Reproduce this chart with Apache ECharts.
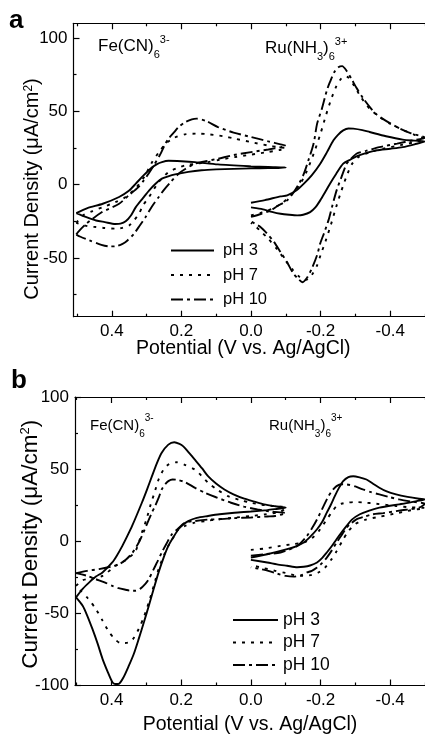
<!DOCTYPE html>
<html><head><meta charset="utf-8">
<script src="https://cdn.jsdelivr.net/npm/echarts@6/dist/echarts.min.js"></script>
<style>html,body{margin:0;padding:0;background:#fff}#c{width:425px;height:736px}</style>
</head><body><div id="c"></div>
<script>
// ---------- tick values ----------
const xMajor = [-0.4, -0.2, 0, 0.2, 0.4];
const xMinor = [-0.5, -0.3, -0.1, 0.1, 0.3, 0.5];
const yMajorA = [-50, 0, 50, 100];
const yMinorA = [-75, -25, 25, 75];
const yMajorB = [-100, -50, 0, 50, 100];
const yMinorB = [-75, -25, 25, 75];
const legendNames = ['pH 3', 'pH 7', 'pH 10'];

// ---------- panel a : Fe(CN)6 3- ----------
const feA_pH3 = [[0.502,-19.4],[0.47,-16],[0.426,-13],[0.379,-8.4],[0.35,-4],[0.331,0.7],[0.31,6],[0.289,10.9],[0.27,14],[0.256,15.4],[0.237,16.3],[0.2,16],[0.161,15.4],[0.095,13.8],[0.0,12.5],[-0.05,12],[-0.1,11.6],
  [-0.05,11.3],[0.0,11.1],[0.05,10.8],[0.1,10.4],[0.142,9.8],[0.18,8.7],[0.218,7],[0.24,5.5],[0.256,4.1],[0.275,0.5],[0.293,-4],[0.31,-9],[0.331,-15.3],[0.345,-21],[0.36,-25],[0.375,-26.6],[0.39,-26.8],[0.42,-25.5],[0.445,-24.4],[0.475,-22],[0.502,-19.4]];
const feA_pH7 = [[0.502,-26],[0.483,-21],[0.455,-18],[0.426,-15.3],[0.39,-12],[0.36,-8.4],[0.33,-2],[0.305,6],[0.284,15.4],[0.265,22],[0.245,28],[0.22,32],[0.19,34.3],[0.15,34.8],[0.12,34.3],[0.08,33],[0.047,31.4],[0.0,29],[-0.047,26.8],[-0.08,25.5],[-0.1,25],
  [-0.08,23.5],[-0.047,22.2],[0.0,20.5],[0.047,18.8],[0.09,17],[0.123,15.4],[0.16,14.2],[0.189,13.2],[0.215,11],[0.237,8.6],[0.265,1.8],[0.293,-8.4],[0.31,-14],[0.322,-19.8],[0.335,-24],[0.35,-27.8],[0.37,-29.5],[0.388,-30],[0.42,-29.5],[0.445,-28.9],[0.47,-28.3],[0.502,-26]];
const feA_pH10 = [[0.502,-34],[0.497,-32.3],[0.473,-26.6],[0.43,-19],[0.379,-13],[0.35,-7],[0.325,-2],[0.308,2.9],[0.293,8],[0.279,13.2],[0.26,21],[0.248,27],[0.237,31.4],[0.22,36],[0.208,39.3],[0.19,42.5],[0.17,44.5],[0.156,45],[0.13,43.5],[0.095,39.3],[0.05,35.5],[0.0,32.5],[-0.05,29.5],[-0.085,27.5],[-0.1,26.5],
  [-0.085,25.5],[-0.05,24],[0.0,22.2],[0.05,20.2],[0.095,17.7],[0.13,16],[0.161,14.3],[0.19,10.5],[0.208,7.5],[0.23,2],[0.25,-3.5],[0.265,-8.4],[0.285,-15],[0.303,-22.1],[0.32,-28],[0.336,-33.4],[0.355,-38],[0.369,-40.3],[0.39,-42],[0.407,-42.1],[0.43,-41],[0.464,-38],[0.49,-35.5],[0.502,-34]];

// ---------- panel a : Ru(NH3)6 3+ ----------
const ruA_pH3 = [[0.0,-12.3],[-0.04,-10.5],[-0.085,-8],[-0.104,-7.3],[-0.13,-4],[-0.152,0.7],[-0.175,6.5],[-0.199,14.3],[-0.218,22],[-0.237,30.2],[-0.25,34],[-0.265,37],[-0.28,38.3],[-0.294,38.2],[-0.32,37.2],[-0.341,35.9],[-0.388,33],[-0.436,30.7],[-0.47,30],[-0.5,29.5],
  [-0.47,27.5],[-0.436,25.6],[-0.4,24.5],[-0.36,23.4],[-0.33,21.5],[-0.303,19.3],[-0.285,17],[-0.265,14.3],[-0.245,7.5],[-0.227,0.7],[-0.212,-5.5],[-0.199,-10.7],[-0.185,-15.5],[-0.17,-18.7],[-0.15,-20.5],[-0.133,-20.9],[-0.11,-20.5],[-0.085,-19.8],[-0.06,-18.5],[-0.038,-17],[-0.015,-16],[0.0,-15.5]];
const ruA_pH7 = [[0,-21],[-0.03,-19],[-0.06,-16.5],[-0.09,-12.5],[-0.115,-7],[-0.14,0],[-0.16,9],[-0.18,21],[-0.2,35],[-0.215,47],[-0.23,58],[-0.245,67],[-0.258,72],[-0.27,74],[-0.28,73],[-0.295,68],[-0.315,60],[-0.34,52],[-0.37,46],[-0.4,41.5],[-0.44,37],[-0.47,34],[-0.5,31],
  [-0.47,29],[-0.43,27],[-0.38,24.5],[-0.34,22],[-0.31,19],[-0.29,14],[-0.275,6],[-0.26,-4],[-0.245,-15],[-0.23,-27],[-0.215,-38],[-0.2,-48],[-0.19,-55],[-0.175,-61.5],[-0.163,-64.5],[-0.152,-65],[-0.14,-63],[-0.12,-58],[-0.1,-52],[-0.075,-44],[-0.05,-37],[-0.025,-31],[0,-26]];
const ruA_pH10 = [[0,-22],[-0.028,-20],[-0.057,-17.5],[-0.076,-14.5],[-0.104,-10.7],[-0.123,-5],[-0.14,1.5],[-0.152,7.5],[-0.165,16.6],[-0.18,28],[-0.19,41.6],[-0.204,52],[-0.218,64.3],[-0.227,70],[-0.24,77],[-0.251,80],[-0.262,80.8],[-0.275,77.5],[-0.289,72],[-0.303,66],[-0.322,59],[-0.341,53],[-0.36,48],[-0.388,43.5],[-0.426,38.5],[-0.46,35],[-0.5,32],
  [-0.464,30.2],[-0.42,28],[-0.369,25.6],[-0.33,23],[-0.303,21.1],[-0.285,17],[-0.275,14.3],[-0.26,5.2],[-0.246,-3.9],[-0.233,-15],[-0.223,-24],[-0.21,-33],[-0.199,-40],[-0.19,-48],[-0.175,-57],[-0.161,-63.5],[-0.148,-66.5],[-0.135,-64],[-0.12,-60],[-0.104,-53],[-0.085,-46],[-0.066,-39],[-0.045,-33],[-0.028,-29],[0,-25]];

// ---------- panel b : Fe(CN)6 3- ----------
const feB_pH3 = [[0.502,-38.9],[0.483,-33],[0.464,-28.5],[0.445,-24.5],[0.426,-21.6],[0.398,-14.7],[0.385,-10],[0.369,-3.2],[0.355,3.5],[0.341,10.6],[0.313,26.7],[0.298,36],[0.284,45.1],[0.27,54],[0.256,61.3],[0.237,67],[0.22,68.6],[0.205,67.5],[0.194,65.8],[0.18,62],[0.161,56.6],[0.14,50.5],[0.123,45.1],[0.1,40],[0.076,35.9],[0.05,32.5],[0.019,29.5],[-0.01,27.5],[-0.038,25.6],[-0.07,24.3],[-0.1,23.3],
  [-0.07,22.3],[-0.047,21.6],[0.0,20.6],[0.047,19.8],[0.09,18.7],[0.123,17.5],[0.155,16.2],[0.18,14],[0.195,11.5],[0.208,8.3],[0.222,3],[0.237,-3.2],[0.25,-11],[0.265,-21.6],[0.279,-33],[0.293,-44.7],[0.307,-56],[0.322,-67.7],[0.336,-78],[0.35,-86.1],[0.365,-94],[0.379,-98.8],[0.39,-99],[0.398,-97.6],[0.412,-90],[0.426,-81.5],[0.44,-71],[0.455,-60.8],[0.47,-51.5],[0.483,-44.7],[0.502,-38.9]];
const feB_pH7 = [[0.502,-31],[0.483,-27],[0.45,-25.5],[0.426,-24],[0.388,-17],[0.355,-12.4],[0.331,-6.7],[0.313,6],[0.3,15],[0.289,24.4],[0.275,35],[0.265,42.8],[0.25,50],[0.235,53.5],[0.213,54.8],[0.19,53],[0.161,49.7],[0.14,45],[0.123,40.6],[0.095,35.5],[0.066,31.3],[0.03,28.5],[0,26.7],[-0.04,25],[-0.085,24],[-0.1,23.5],
  [-0.085,20.5],[-0.04,18.6],[0,17.5],[0.05,16.3],[0.095,15.2],[0.13,14],[0.161,12.9],[0.19,10.5],[0.208,8.3],[0.222,3],[0.237,-3.2],[0.25,-10],[0.265,-19.3],[0.279,-31],[0.293,-42.4],[0.308,-53],[0.322,-60.8],[0.335,-66.5],[0.345,-69.6],[0.36,-70.5],[0.375,-70.5],[0.39,-68],[0.407,-63],[0.426,-55],[0.445,-47],[0.47,-39],[0.49,-34],[0.502,-31]];
const feB_pH10 = [[0.502,-22.1],[0.47,-20.5],[0.436,-19.3],[0.4,-17.5],[0.379,-16],[0.36,-13],[0.34,-8],[0.32,0],[0.3,11],[0.284,20],[0.275,24.4],[0.265,30],[0.256,35.9],[0.246,39.5],[0.237,41.7],[0.225,42.8],[0.21,42.5],[0.189,41],[0.16,37],[0.132,33.6],[0.1,30.5],[0.057,26.7],[0.02,24],[-0.019,22.1],[-0.06,20.5],[-0.1,19.5],
  [-0.07,17.5],[-0.047,17.2],[0.0,16.5],[0.047,16],[0.09,15.3],[0.123,15],[0.16,14],[0.189,12.9],[0.21,8.5],[0.227,4.8],[0.242,-1.5],[0.256,-7.8],[0.268,-14],[0.279,-19.3],[0.293,-26.3],[0.303,-29.5],[0.318,-33],[0.331,-34.3],[0.345,-34.3],[0.36,-33.6],[0.38,-32.5],[0.398,-30.9],[0.42,-28.5],[0.445,-26.3],[0.47,-24],[0.502,-22.1]];

// ---------- panel b : Ru(NH3)6 3+ ----------
const ruB_pH3 = [[0,-11.3],[-0.047,-9],[-0.104,-5.5],[-0.13,-3.5],[-0.152,-0.9],[-0.17,3],[-0.19,8.3],[-0.205,13.5],[-0.218,19.8],[-0.23,25.5],[-0.241,31.3],[-0.253,37],[-0.265,41.7],[-0.28,44.5],[-0.294,45.1],[-0.312,44.3],[-0.332,42.8],[-0.35,40],[-0.369,37.1],[-0.39,34.5],[-0.417,32.5],[-0.45,30.8],[-0.483,29.5],[-0.5,29],
  [-0.483,28.2],[-0.455,26.8],[-0.426,25.6],[-0.369,23.3],[-0.34,21.3],[-0.313,18.7],[-0.29,15],[-0.275,10.6],[-0.26,6],[-0.246,1.4],[-0.232,-3.5],[-0.218,-7.8],[-0.205,-11.5],[-0.19,-14.7],[-0.17,-16.8],[-0.152,-17.7],[-0.133,-18],[-0.104,-17],[-0.075,-16],[-0.047,-14.7],[0,-12.9]];
const ruB_pH7 = [[0,-6],[-0.04,-5],[-0.085,-3.2],[-0.12,-2],[-0.152,-0.9],[-0.175,2],[-0.195,7],[-0.218,15.2],[-0.232,20],[-0.246,24.4],[-0.26,26],[-0.275,26.7],[-0.3,27.2],[-0.322,26.9],[-0.36,26],[-0.417,24.4],[-0.46,23.5],[-0.5,23],
  [-0.46,21.5],[-0.42,19.5],[-0.37,17],[-0.33,15],[-0.3,12],[-0.28,7],[-0.262,0],[-0.246,-7],[-0.23,-13],[-0.212,-18.5],[-0.195,-21.5],[-0.175,-23.3],[-0.15,-24],[-0.125,-23.5],[-0.1,-22],[-0.07,-20.5],[-0.035,-18.5],[0,-16.5]];
const ruB_pH10 = [[0,-10],[-0.04,-9],[-0.085,-7.8],[-0.133,-3.2],[-0.161,3.7],[-0.178,10],[-0.19,15.2],[-0.207,23.5],[-0.223,31.3],[-0.235,35.5],[-0.246,38.2],[-0.26,39.5],[-0.275,39.4],[-0.3,38],[-0.322,35.9],[-0.345,34],[-0.369,32.5],[-0.4,30.5],[-0.426,29],[-0.46,27.5],[-0.5,26],
  [-0.483,23.3],[-0.45,22],[-0.417,20.9],[-0.38,19.5],[-0.35,18.7],[-0.325,17],[-0.303,15.2],[-0.288,12.5],[-0.275,9.5],[-0.26,4],[-0.246,-0.9],[-0.232,-6.5],[-0.218,-11.3],[-0.205,-15],[-0.19,-18.2],[-0.175,-20.5],[-0.161,-21.6],[-0.145,-23.5],[-0.123,-24.5],[-0.1,-24],[-0.076,-22.5],[-0.05,-20.5],[-0.028,-19.3],[0,-18]];

// ---------- build chart ----------
const FONT = '"Liberation Sans", Arial, Helvetica, sans-serif';
const BLACK = '#000';
const dash = { 'pH 3': 'solid', 'pH 7': [3, 6], 'pH 10': [12, 4, 3, 4] };

function xAxes(gi, max, nameGap, namePad) {
  const base = { type: 'value', gridIndex: gi, min: -0.5, max: max, inverse: true, splitLine: { show: false } };
  const line = { show: true, onZero: false, lineStyle: { color: BLACK, width: 1.2 } };
  const tick = (vals, len) => ({ show: true, inside: true, length: len, customValues: vals, lineStyle: { color: BLACK, width: 1.2 } });
  return [
    Object.assign({}, base, { position: 'bottom', axisLine: line, axisTick: tick(xMajor, 6),
      axisLabel: { show: true, customValues: xMajor, formatter: v => v.toFixed(1), margin: 6, fontSize: 17, color: BLACK, fontFamily: FONT },
      name: 'Potential (V vs. Ag/AgCl)', nameLocation: 'middle', nameGap: nameGap, nameMoveOverlap: false,
      nameTextStyle: { fontSize: 19.5, color: BLACK, fontFamily: FONT, padding: namePad } }),
    Object.assign({}, base, { position: 'bottom', axisLine: { show: false, onZero: false }, axisTick: tick(xMinor, 3), axisLabel: { show: false } }),
    Object.assign({}, base, { position: 'top', axisLine: line, axisTick: tick(xMajor, 6), axisLabel: { show: false } }),
    Object.assign({}, base, { position: 'top', axisLine: { show: false, onZero: false }, axisTick: tick(xMinor, 3), axisLabel: { show: false } })
  ];
}
function yAxes(gi, min, max, major, minor, nameGap, namePad, nameSize) {
  const base = { type: 'value', gridIndex: gi, min: min, max: max, position: 'left', splitLine: { show: false } };
  const tick = (vals, len) => ({ show: true, inside: true, length: len, customValues: vals, lineStyle: { color: BLACK, width: 1.2 } });
  return [
    Object.assign({}, base, { axisLine: { show: true, onZero: false, lineStyle: { color: BLACK, width: 1.2 } }, axisTick: tick(major, 6),
      axisLabel: { show: true, customValues: major, margin: 6, fontSize: 17, color: BLACK, fontFamily: FONT },
      name: 'Current Density (μA/cm{sup|2})', nameLocation: 'middle', nameGap: nameGap, nameMoveOverlap: false,
      nameTextStyle: { fontSize: nameSize, color: BLACK, fontFamily: FONT, padding: namePad,
        rich: { sup: { fontSize: Math.round(nameSize * 0.58), color: BLACK, fontFamily: FONT, verticalAlign: 'top', lineHeight: Math.round(nameSize * 0.58) } } } }),
    Object.assign({}, base, { axisLine: { show: false, onZero: false }, axisTick: tick(minor, 3), axisLabel: { show: false } })
  ];
}
function ser(name, data, xi, yi) {
  return { type: 'line', name: name, data: data, xAxisIndex: xi, yAxisIndex: yi, symbol: 'none', showSymbol: false,
    smooth: 0.25, silent: true, animation: false, z: 3,
    lineStyle: { color: BLACK, width: 1.9, type: dash[name] }, itemStyle: { color: BLACK } };
}
function legend(left, top, w, gap, fs, pad) {
  return { data: legendNames, orient: 'vertical', left: left, top: top, padding: 0, itemWidth: w, itemHeight: 14, itemGap: gap,
    selectedMode: false, itemStyle: { opacity: 0 },
    textStyle: { fontSize: fs, lineHeight: 14, color: BLACK, fontFamily: FONT, padding: [0, 0, 0, pad] } };
}
function chem(left, top, parts, fs) {
  const sfs = Math.round(fs * 0.65);
  return { type: 'text', left: left, top: top, silent: true,
    style: { text: parts, fill: BLACK,
      rich: {
        m: { fontSize: fs, fontFamily: FONT, fill: BLACK, lineHeight: 28, verticalAlign: 'middle' },
        s: { fontSize: sfs, fontFamily: FONT, fill: BLACK, lineHeight: sfs, verticalAlign: 'bottom' },
        p: { fontSize: sfs, fontFamily: FONT, fill: BLACK, lineHeight: sfs, verticalAlign: 'top', padding: [2, 0, 0, 0] }
      } } };
}
const feLabel = '{m|Fe(CN)}{s|6}{p|3-}';
const ruLabel = '{m|Ru(NH}{s|3}{m|)}{s|6}{p|3+}';

const option = {
  backgroundColor: '#fff',
  animation: false,
  grid: [
    { left: 73.5, top: 23.3, width: 355.5, height: 293.4 },
    { left: 75, top: 397, width: 353.8, height: 289.5 }
  ],
  xAxis: [].concat(xAxes(0, 0.51, 22, [0, 12, 0, 0]), xAxes(1, 0.505, 29.5, [0, 0, 0, 0])),
  yAxis: [].concat(yAxes(0, -90, 110, yMajorA, yMinorA, 31, [0, 38, 0, 0], 20), yAxes(1, -100, 100, yMajorB, yMinorB, 33, [0, 6, 0, 0], 22.5)),
  legend: [legend(170, 242, 43, 7.5, 16.5, 4), legend(232, 611, 45, 4.5, 17.5, 0)],
  series: [
    ser('pH 3', feA_pH3, 0, 0), ser('pH 7', feA_pH7, 0, 0), ser('pH 10', feA_pH10, 0, 0),
    ser('pH 3', ruA_pH3, 0, 0), ser('pH 7', ruA_pH7, 0, 0), ser('pH 10', ruA_pH10, 0, 0),
    ser('pH 3', feB_pH3, 4, 2), ser('pH 7', feB_pH7, 4, 2), ser('pH 10', feB_pH10, 4, 2),
    ser('pH 3', ruB_pH3, 4, 2), ser('pH 7', ruB_pH7, 4, 2), ser('pH 10', ruB_pH10, 4, 2)
  ],
  graphic: [
    { type: 'text', left: 9, top: 8, silent: true, style: { text: 'a', font: 'bold 26px ' + FONT, fill: BLACK } },
    { type: 'text', left: 11, top: 368, silent: true, style: { text: 'b', font: 'bold 26px ' + FONT, fill: BLACK } },
    chem(98, 32.7, feLabel, 17),
    chem(265, 34, ruLabel, 17),
    chem(90, 411.5, feLabel, 15),
    chem(269, 411.5, ruLabel, 15)
  ]
};
const chart = echarts.init(document.getElementById('c'), null, { renderer: 'canvas' });
chart.setOption(option);
</script></body></html>
